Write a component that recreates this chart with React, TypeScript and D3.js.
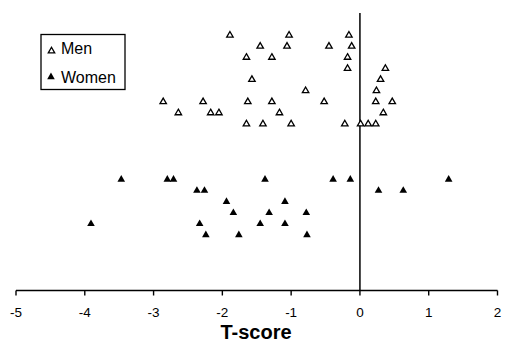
import React from "react";
import * as d3 from "d3";

const xTicks = [-5, -4, -3, -2, -1, 0, 1, 2];

// Men: T-score and vertical row (arbitrary level)
const menX = [
  -1.89, -1.03, -0.16,
  -1.45, -1.06, -0.45, -0.12,
  -1.65, -1.28, -0.18,
  -0.18, 0.37,
  -1.57, 0.30,
  -0.79, 0.24,
  -2.86, -2.28, -1.63, -1.28, -0.52, 0.23, 0.47,
  -2.64, -2.17, -2.05, -1.17, 0.34,
  -1.65, -1.41, -1.0, -0.22, 0.01, 0.12, 0.23,
];
const menLevel = [
  23, 23, 23,
  22, 22, 22, 22,
  21, 21, 21,
  20, 20,
  19, 19,
  18, 18,
  17, 17, 17, 17, 17, 17, 17,
  16, 16, 16, 16, 16,
  15, 15, 15, 15, 15, 15, 15,
];

const womenX = [
  -3.47, -2.8, -2.71, -1.38, -0.39, -0.14, 1.29,
  -2.37, -2.26, 0.27, 0.63,
  -1.94, -1.09,
  -1.84, -1.32, -0.78,
  -3.91, -2.33, -1.45, -1.09,
  -2.24, -1.76, -0.77,
];
const womenLevel = [
  10, 10, 10, 10, 10, 10, 10,
  9, 9, 9, 9,
  8, 8,
  7, 7, 7,
  6, 6, 6, 6,
  5, 5, 5,
];

const legendLabels = ["Men", "Women"];
const xTitle = "T-score";

export default function App() {
  const W = 505;
  const H = 348;
  const x = d3.scaleLinear().domain([-5, 2]).range([16, 497.5]);
  const y = d3.scaleLinear().domain([0, 25]).range([290.5, 13]);
  const axisY = y(0);
  const hollow = d3.symbol(d3.symbolTriangle, 18)()!;
  const filled = d3.symbol(d3.symbolTriangle, 25)()!;
  const font = "Liberation Sans, Arial, Helvetica, sans-serif";

  return (
    <svg
      width={W}
      height={H}
      style={{ position: "absolute", left: 0, top: 0, background: "#fff" }}
      fontFamily={font}
    >
      {/* vertical line at x=0 */}
      <line x1={x(0)} x2={x(0)} y1={y(25)} y2={axisY} stroke="#000" strokeWidth={1.5} />
      {/* x axis */}
      <line x1={x(-5)} x2={x(2)} y1={axisY} y2={axisY} stroke="#000" strokeWidth={1.4} />
      {xTicks.map((t) => (
        <g key={t}>
          <line x1={x(t)} x2={x(t)} y1={axisY} y2={axisY + 5} stroke="#000" strokeWidth={1.4} />
          <text x={x(t)} y={317} textAnchor="middle" fontSize={13.5} fill="#000">
            {t}
          </text>
        </g>
      ))}
      <text x={256} y={339} textAnchor="middle" fontSize={20} fontWeight="bold" fill="#000">
        {xTitle}
      </text>

      {/* Men */}
      {menX.map((v, i) => (
        <path
          key={"m" + i}
          d={hollow}
          transform={`translate(${x(v)},${y(menLevel[i])})`}
          fill="#fff"
          stroke="#000"
          strokeWidth={1.3}
        />
      ))}
      {/* Women */}
      {womenX.map((v, i) => (
        <path
          key={"w" + i}
          d={filled}
          transform={`translate(${x(v)},${y(womenLevel[i])})`}
          fill="#000"
        />
      ))}

      {/* Legend */}
      <rect x={41} y={34.5} width={84} height={55} fill="#fff" stroke="#000" strokeWidth={1.3} />
      <path d={hollow} transform="translate(51.5,51)" fill="#fff" stroke="#000" strokeWidth={1.3} />
      <text x={61} y={53.5} fontSize={16} fill="#000">{legendLabels[0]}</text>
      <path d={filled} transform="translate(51,77)" fill="#000" />
      <text x={61} y={82.5} fontSize={16} fill="#000">{legendLabels[1]}</text>
    </svg>
  );
}
